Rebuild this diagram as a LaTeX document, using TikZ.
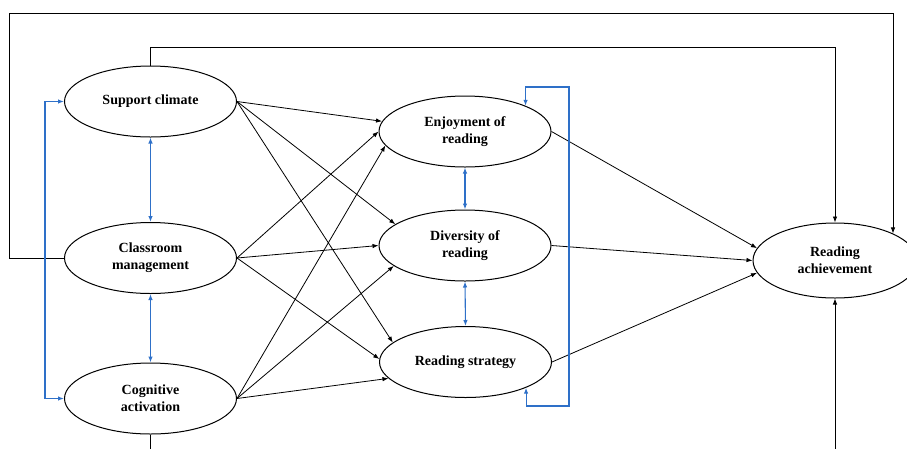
\documentclass[tikz,border=0pt]{standalone}
\usepackage{fontspec}
\setmainfont{Liberation Serif}
\usetikzlibrary{arrows.meta,calc,shapes.geometric}
\definecolor{linkblue}{RGB}{46,112,200}

\begin{document}
\begin{tikzpicture}[x=1pt,y=-1pt,>={Latex[length=6pt,width=4.5pt]}]
		\tikzstyle{factor}=[draw,ellipse,line width=1pt,minimum width=172pt,minimum height=71pt,inner sep=0pt,align=center,font=\fontsize{14}{17}\selectfont\bfseries]
		\tikzstyle{path line}=[->,line width=0.8pt]
		\tikzstyle{cov line}=[<->,line width=1.1pt,linkblue]

		%frame
		\useasboundingbox (0,0) rectangle (907,448);
		\clip (0,0) rectangle (907,448);

		%teaching factors
		\node[factor] (sc) at (150.5,101.5) {Support climate};
		\node[factor] (cm) at (150.5,258) {Classroom\\management};
		\node[factor] (ca) at (150.5,398.5) {Cognitive\\activation};
		%reading factors
		\node[factor] (en) at (465,131.5) {Enjoyment of\\reading};
		\node[factor] (dr) at (465,245.5) {Diversity of\\reading};
		\node[factor] (rs) at (465.5,362) {Reading strategy};
		%outcome
		\node[factor,minimum width=164pt,minimum height=75pt] (ra) at (835,260.5) {Reading\\achievement};

		%paths to reading factors
		\draw[path line] (sc.east) -- (en.173);
		\draw[path line] (sc.east) -- (dr.163);
		\draw[path line] (sc.east) -- (rs.165);
		\draw[path line] (cm.east) -- (en.180);
		\draw[path line] (cm.east) -- (dr.180);
		\draw[path line] (cm.east) -- (rs.178);
		\draw[path line] (ca.east) -- (en.190);
		\draw[path line] (ca.east) -- (dr.196);
		\draw[path line] (ca.east) -- (rs.192);

		%paths to achievement
		\draw[path line] (en.east) -- (ra.171);
		\draw[path line] (dr.east) -- (ra.west);
		\draw[path line] (rs.east) -- (ra.189);

		%direct paths
		\coordinate (outer) at (9,13);
		\coordinate (outerr) at (893,13);
		\draw[path line] (cm.west) -| (outer) -- (outerr) -- (outerr |- ra.25);
		\coordinate (topbar) at (0,47);
		\draw[path line] (sc.north) |- (topbar -| ra.north) -- (ra.north);
		\coordinate (botbar) at (0,470);
		\draw[path line] (ca.south) |- (botbar -| ra.south) -- (ra.south);

		%covariances
		\draw[cov line] (sc.south) -- (cm.north);
		\draw[cov line] (cm.south) -- (ca.north);
		\draw[cov line] (en.south) -- (dr.north);
		\draw[cov line] (dr.south) -- (rs.north);
		\coordinate (leftbar) at (45,250);
		\draw[cov line] (sc.west) -| (leftbar) |- (ca.west);
		\coordinate (bracktop) at (569,87);
		\coordinate (brackbot) at (569,406);
		\draw[cov line] (en.23) |- (bracktop) -- (brackbot) -| (rs.-23);
	\end{tikzpicture}
\end{document}
